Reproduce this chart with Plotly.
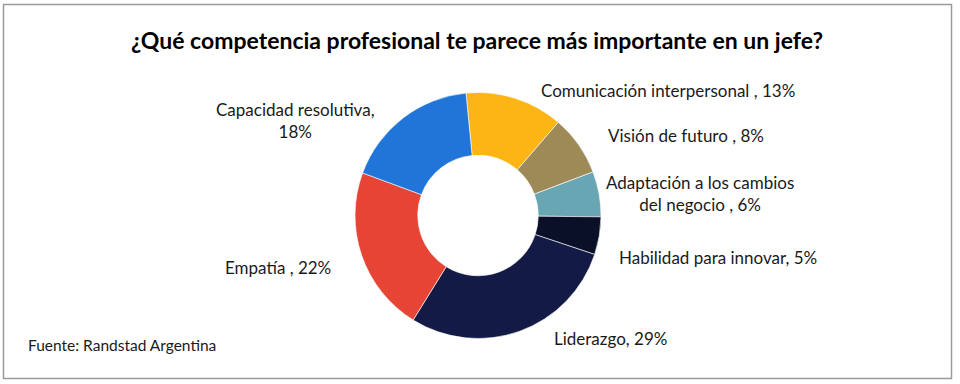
import plotly.graph_objects as go

labels = ["Comunicación interpersonal", "Visión de futuro", "Adaptación a los cambios del negocio",
          "Habilidad para innovar", "Liderazgo", "Empatía", "Capacidad resolutiva"]
values = [13, 8, 6, 5, 29, 22, 18]
colors = ["#FDB515", "#9E8A56", "#68A6B3", "#0B1029", "#121A45", "#E64536", "#2275D8"]
label_texts = ["Comunicación interpersonal , {}%", "Visión de futuro , {}%",
               "Adaptación a los cambios<br>del negocio , {}%", "Habilidad para innovar, {}%",
               "Liderazgo, {}%", "Empatía , {}%", "Capacidad resolutiva,<br>{}%"]
label_pos = [(668, 90), (686, 135), (700, 193), (718, 257), (610, 338), (278, 267), (295, 120)]

W, H = 960, 384
FONT = "Lato"

fig = go.Figure(go.Pie(
    labels=labels, values=values, hole=0.49, sort=False, direction="clockwise",
    rotation=-5.6, marker=dict(colors=colors, line=dict(color="white", width=0.6)),
    textinfo="none", hoverinfo="label+percent", showlegend=False,
    domain=dict(x=[355 / W, 601 / W], y=[45.5 / H, 291.5 / H]),
))

for t, v, (px, py) in zip(label_texts, values, label_pos):
    fig.add_annotation(x=px / W, y=1 - py / H, xref="paper", yref="paper",
                       text=t.format(v), showarrow=False, xanchor="center", yanchor="middle",
                       font=dict(family=FONT, size=17, color="#1a1a1a"))

fig.add_annotation(x=477 / W, y=1 - 40 / H, xref="paper", yref="paper",
                   text="<b>¿Qué competencia profesional te parece más importante en un jefe?</b>",
                   showarrow=False, xanchor="center", yanchor="middle",
                   font=dict(family=FONT, size=23, color="#000000"))
fig.add_annotation(x=26 / W, y=1 - 345 / H, xref="paper", yref="paper",
                   text="Fuente: Randstad Argentina", showarrow=False,
                   xanchor="left", yanchor="middle",
                   font=dict(family=FONT, size=15.5, color="#1a1a1a"))

fig.add_shape(type="rect", xref="paper", yref="paper",
              x0=3.5 / W, x1=951.5 / W, y0=1 - 378.5 / H, y1=1 - 4.5 / H,
              line=dict(color="#9a9a9a", width=1.5), fillcolor="rgba(0,0,0,0)")

fig.update_layout(width=W, height=H, margin=dict(l=0, r=0, t=0, b=0),
                  paper_bgcolor="white", plot_bgcolor="white")
fig.write_html("out.html", config={"displayModeBar": False},
               post_script="document.body.style.margin='0';document.body.style.overflow='hidden';")
